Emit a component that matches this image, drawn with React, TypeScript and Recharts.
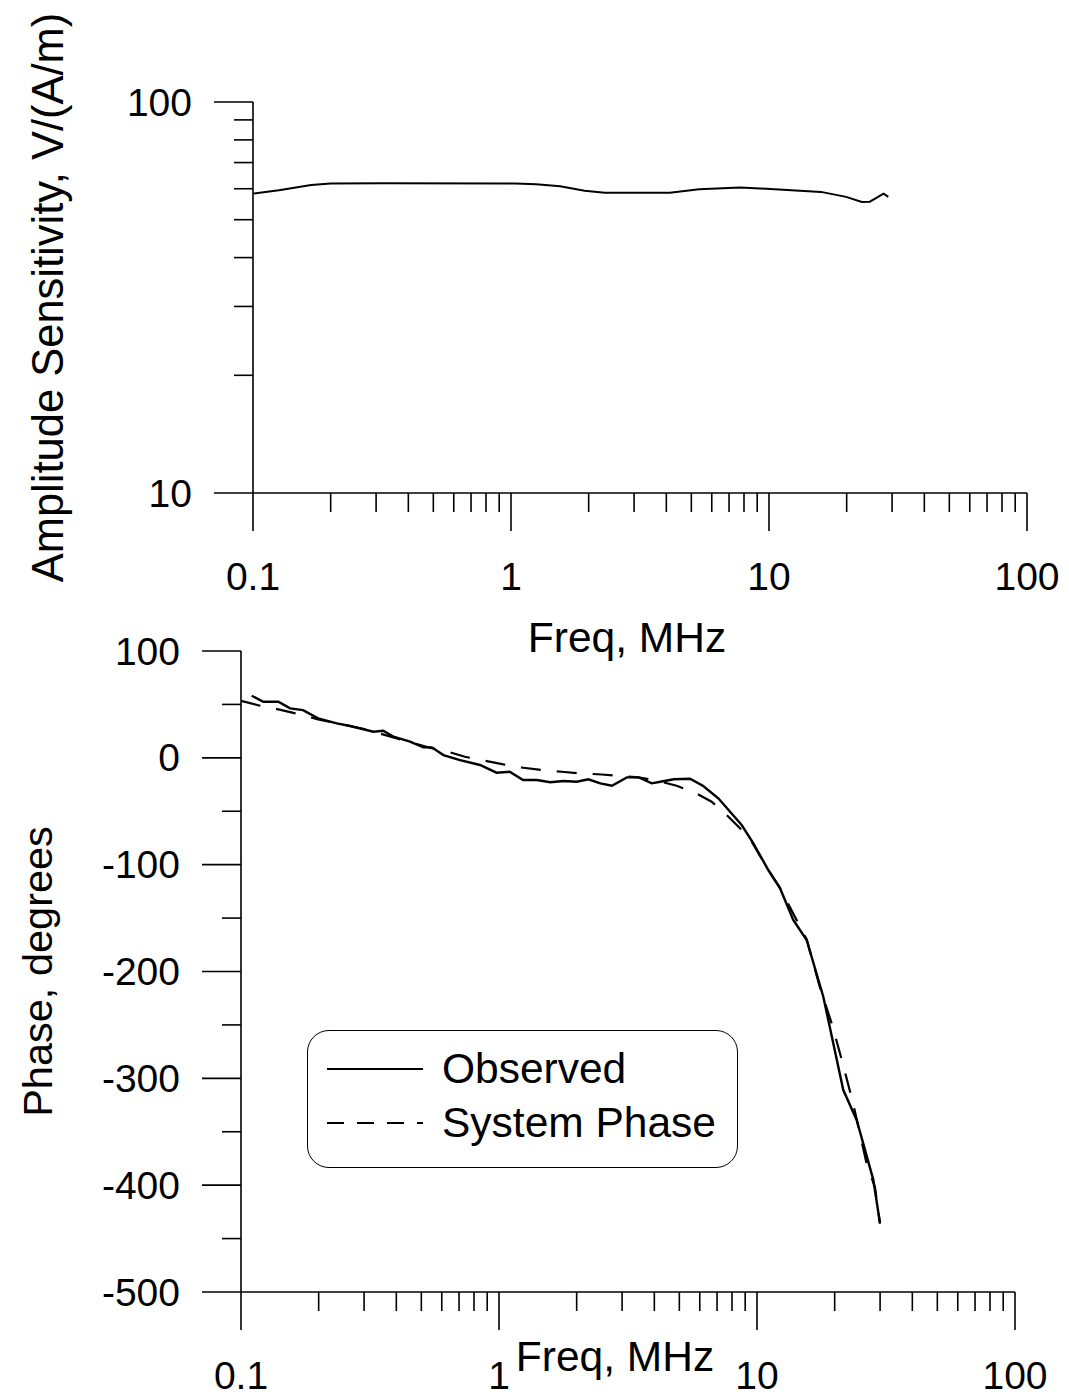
import { LineChart, Line, XAxis, YAxis, Legend } from 'recharts';

// ---- data ----

// top panel: amplitude sensitivity vs frequency
const ampFreq = [0.1, 0.126, 0.168, 0.2, 0.32, 1.04, 1.25, 1.55, 1.93, 2.31, 4.13, 5.36, 7.72, 9.23, 15.9, 19.9, 22.9, 24.6, 27.8, 29.0];
const ampValue = [58.3, 59.5, 61.3, 61.9, 62.0, 61.9, 61.6, 60.9, 59.3, 58.6, 58.6, 59.8, 60.4, 60.1, 58.9, 57.2, 55.5, 55.6, 58.3, 57.2];

// bottom panel: observed phase
const obsFreq = [
  0.11, 0.122, 0.1395, 0.155, 0.174, 0.199, 0.235, 0.265, 0.326, 0.356, 0.39, 0.452, 0.509, 0.549, 0.609,
  0.706, 0.844, 0.978, 1.1, 1.24, 1.4, 1.58, 1.78, 2.0, 2.22, 2.47, 2.74, 3.13, 3.48, 3.91, 4.22, 4.76,
  5.5, 6.19, 7.08, 8.72, 9.68, 11.06, 12.28, 13.82, 15.58, 18.07, 21.6, 24.34, 28.24, 29.97,
];
const obsPhase = [
  58.1, 52.5, 52.5, 46.3, 44.7, 37.0, 32.3, 29.8, 24.4, 25.4, 19.8, 15.1, 9.8, 9.8, 2.6,
  -2.1, -6.7, -13.9, -13.0, -20.8, -20.8, -22.9, -21.7, -22.4, -20.1, -23.9, -26.1, -18.3, -18.3, -23.9, -22.4, -20.1,
  -19.6, -26.4, -37.9, -62.9, -80.0, -105, -122, -151.8, -170.5, -223.6, -311, -339, -395, -435.7,
];

// bottom panel: system phase
const sysFreq = [
  0.1, 0.1185, 0.1395, 0.1668, 0.199, 0.3, 0.532, 0.636, 0.738, 0.883, 1.039, 1.243, 1.464, 1.75, 2.06, 2.5,
  2.94, 3.47, 4.09, 4.88, 5.75, 6.67, 7.52, 8.59, 9.54, 11.06, 12.28, 15.58, 17.54, 19.62, 21.6, 23.55, 26.62, 28.66, 29.97,
];
const sysPhase = [
  53.4, 48.8, 45.4, 41, 36, 27, 9.8, 5.7, 1.0, -2.7, -6.1, -9.3, -11.4, -13.0, -14.5, -15.6,
  -17, -18.3, -21.4, -26.1, -32.7, -41.1, -52, -66, -78.5, -105, -122, -170, -215, -251, -288, -323, -380, -402, -436,
];

// axis ticks
const freqTicks = [
  0.1, 0.2, 0.3, 0.4, 0.5, 0.6, 0.7, 0.8, 0.9,
  1, 2, 3, 4, 5, 6, 7, 8, 9,
  10, 20, 30, 40, 50, 60, 70, 80, 90, 100,
];
const ampTicks = [10, 20, 30, 40, 50, 60, 70, 80, 90, 100];
const phaseTicks = [-500, -450, -400, -350, -300, -250, -200, -150, -100, -50, 0, 50, 100];

const seriesNames = ['Observed', 'System Phase'];

// ---- styling ----
const FONT = '"Liberation Sans", Arial, sans-serif';
const INK = '#000';
const AXIS_W = 1.6;
const DASH = '20 16';
const Y_AXIS_W = 60;
const X_AXIS_H = 30;

const ampData = ampFreq.map((f, i) => ({ f, amp: ampValue[i] }));
const obsData = obsFreq.map((f, i) => ({ f, phase: obsPhase[i] }));
const sysData = sysFreq.map((f, i) => ({ f, phase: sysPhase[i] }));

const isDecade = (v: number) => Math.abs(Math.log10(v) - Math.round(Math.log10(v))) < 1e-9;

function FreqTick({ x, y, payload }: any) {
  const major = isDecade(payload.value);
  return (
    <g>
      <line x1={x} x2={x} y1={y} y2={y + (major ? 38 : 19)} stroke={INK} strokeWidth={AXIS_W} />
      {major && (
        <text x={x} y={y + 97} textAnchor="middle" fontSize={39} fontFamily={FONT} fill={INK}>
          {String(payload.value)}
        </text>
      )}
    </g>
  );
}

function makeYTick(isMajor: (v: number) => boolean) {
  return function YTick({ x, y, payload }: any) {
    const major = isMajor(payload.value);
    const len = major ? 39 : 19;
    return (
      <g>
        <line x1={x - len} x2={x} y1={y} y2={y} stroke={INK} strokeWidth={AXIS_W} />
        {major && (
          <text x={x - 61} y={y} textAnchor="end" dominantBaseline="central" fontSize={39} fontFamily={FONT} fill={INK}>
            {String(payload.value)}
          </text>
        )}
      </g>
    );
  };
}

const AmpTick = makeYTick(isDecade);
const PhaseTick = makeYTick((v) => v % 100 === 0);

const xTitle = (dy: number) => (props: any) => {
  const vb = props.viewBox;
  return (
    <text x={vb.x + 374} y={vb.y + dy} textAnchor="middle" dominantBaseline="central" fontSize={42.5} fontFamily={FONT} fill={INK}>
      Freq, MHz
    </text>
  );
};

const yTitle = (text: string, size: number, dx: number) => (props: any) => {
  const vb = props.viewBox;
  const cx = vb.x + vb.width - dx;
  const cy = vb.y + vb.height / 2;
  return (
    <text
      x={cx}
      y={cy}
      transform={`rotate(-90 ${cx} ${cy})`}
      textAnchor="middle"
      dominantBaseline="central"
      fontSize={size}
      fontFamily={FONT}
      fill={INK}
    >
      {text}
    </text>
  );
};

function LegendBox({ payload }: any) {
  return (
    <div
      style={{
        width: 431,
        height: 138,
        boxSizing: 'border-box',
        border: `1.5px solid ${INK}`,
        borderRadius: 22,
        background: '#fff',
        position: 'relative',
        fontFamily: FONT,
        fontSize: 42.5,
        color: INK,
      }}
    >
      {(payload || []).map((entry: any, i: number) => (
        <div
          key={entry.value}
          style={{ position: 'absolute', left: 18, top: 14 + i * 54, height: 48, display: 'flex', alignItems: 'center' }}
        >
          <svg width={98} height={10}>
            <line
              x1={1}
              x2={97}
              y1={5}
              y2={5}
              stroke={INK}
              strokeWidth={2}
              strokeDasharray={entry.value === seriesNames[1] ? '17 13' : undefined}
            />
          </svg>
          <span style={{ marginLeft: 18, lineHeight: '48px', whiteSpace: 'nowrap' }}>{entry.value}</span>
        </div>
      ))}
    </div>
  );
}

export default function App() {
  return (
    <div style={{ position: 'absolute', left: 0, top: 0, width: 1069, height: 1399, background: '#fff' }}>
      <div style={{ position: 'absolute', left: 0, top: 0 }}>
        <LineChart width={1069} height={700} margin={{ top: 102, right: 42, bottom: 207 - X_AXIS_H, left: 253 - Y_AXIS_W }}>
          <XAxis
            dataKey="f"
            type="number"
            scale="log"
            domain={[0.1, 100]}
            allowDataOverflow
            ticks={freqTicks}
            interval={0}
            height={X_AXIS_H}
            tickSize={0}
            tickMargin={0}
            tickLine={false}
            tick={FreqTick}
            axisLine={{ stroke: INK, strokeWidth: AXIS_W }}
            label={{ content: xTitle(144) }}
          />
          <YAxis
            dataKey="amp"
            type="number"
            scale="log"
            domain={[10, 100]}
            allowDataOverflow
            ticks={ampTicks}
            interval={0}
            width={Y_AXIS_W}
            tickSize={0}
            tickMargin={0}
            tickLine={false}
            tick={AmpTick}
            axisLine={{ stroke: INK, strokeWidth: AXIS_W }}
            label={{ content: yTitle('Amplitude Sensitivity, V/(A/m)', 43.5, 205) }}
          />
          <Line
            data={ampData}
            dataKey="amp"
            type="linear"
            stroke={INK}
            strokeWidth={2}
            dot={false}
            isAnimationActive={false}
          />
        </LineChart>
      </div>

      <div style={{ position: 'absolute', left: 0, top: 600 }}>
        <LineChart width={1069} height={799} margin={{ top: 51, right: 54, bottom: 107 - X_AXIS_H, left: 241 - Y_AXIS_W }}>
          <XAxis
            dataKey="f"
            type="number"
            scale="log"
            domain={[0.1, 100]}
            allowDataOverflow
            ticks={freqTicks}
            interval={0}
            height={X_AXIS_H}
            tickSize={0}
            tickMargin={0}
            tickLine={false}
            tick={FreqTick}
            axisLine={{ stroke: INK, strokeWidth: AXIS_W }}
            label={{ content: xTitle(64) }}
          />
          <YAxis
            dataKey="phase"
            type="number"
            domain={[-500, 100]}
            allowDataOverflow
            ticks={phaseTicks}
            interval={0}
            width={Y_AXIS_W}
            tickSize={0}
            tickMargin={0}
            tickLine={false}
            tick={PhaseTick}
            axisLine={{ stroke: INK, strokeWidth: AXIS_W }}
            label={{ content: yTitle('Phase, degrees', 41.5, 204) }}
          />
          <Legend
            layout="vertical"
            align="center"
            verticalAlign="middle"
            content={LegendBox}
            wrapperStyle={{ left: 307, top: 430, width: 431, height: 138 }}
          />
          <Line
            name={seriesNames[0]}
            data={obsData}
            dataKey="phase"
            type="linear"
            stroke={INK}
            strokeWidth={2.4}
            dot={false}
            isAnimationActive={false}
          />
          <Line
            name={seriesNames[1]}
            data={sysData}
            dataKey="phase"
            type="linear"
            stroke={INK}
            strokeWidth={2.2}
            strokeDasharray={DASH}
            dot={false}
            isAnimationActive={false}
          />
        </LineChart>
      </div>
    </div>
  );
}
